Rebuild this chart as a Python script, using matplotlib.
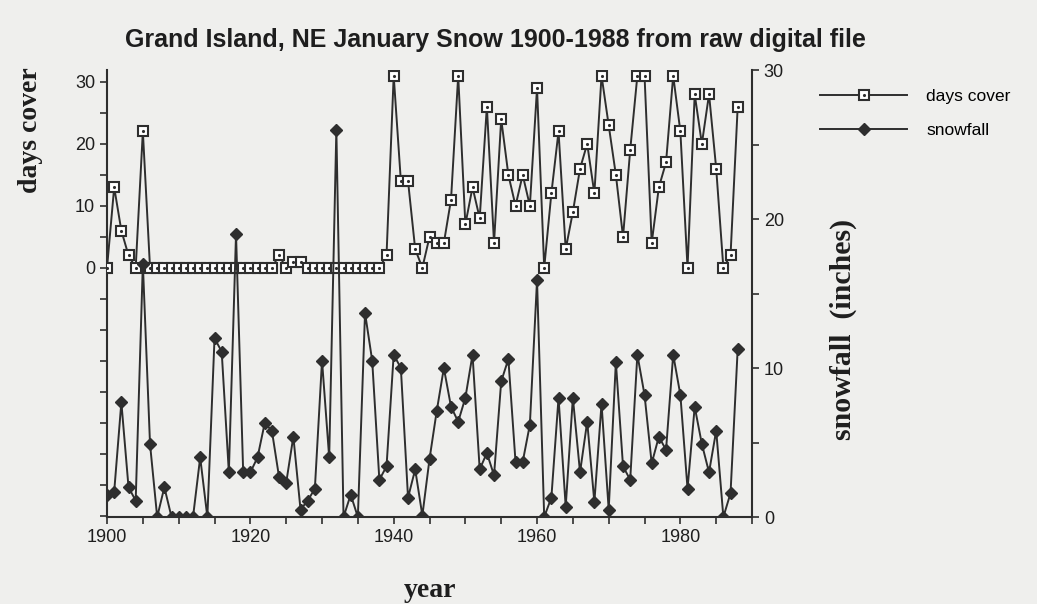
import matplotlib
matplotlib.use("Agg")
import matplotlib.pyplot as plt
from matplotlib.ticker import MultipleLocator

# dados (Grand Island, NE - janeiro)
anos = list(range(1900, 1989))

dias_cobertura = [
    0, 13, 6, 2, 0, 22, 0, 0, 0, 0,
    0, 0, 0, 0, 0, 0, 0, 0, 0, 0,
    0, 0, 0, 0, 2, 0, 1, 1, 0, 0,
    0, 0, 0, 0, 0, 0, 0, 0, 0, 2,
    31, 14, 14, 3, 0, 5, 4, 4, 11, 31,
    7, 13, 8, 26, 4, 24, 15, 10, 15, 10,
    29, 0, 12, 22, 3, 9, 16, 20, 12, 31,
    23, 15, 5, 19, 31, 31, 4, 13, 17, 31,
    22, 0, 28, 20, 28, 16, 0, 2, 26,
]

neve = [
    1.5, 1.7, 7.7, 2.0, 1.1, 17.0, 4.9, 0.0, 2.0, 0.0,
    0.0, 0.0, 0.0, 4.0, 0.0, 12.0, 11.1, 3.0, 19.0, 3.0,
    3.0, 4.0, 6.3, 5.8, 2.7, 2.3, 5.4, 0.5, 1.1, 1.9,
    10.5, 4.0, 26.0, 0.0, 1.5, 0.0, 13.7, 10.5, 2.5, 3.4,
    10.9, 10.0, 1.3, 3.2, 0.1, 3.9, 7.1, 10.0, 7.4, 6.4,
    8.0, 10.9, 3.2, 4.3, 2.8, 9.1, 10.6, 3.7, 3.7, 6.2,
    15.9, 0.0, 1.3, 8.0, 0.7, 8.0, 3.0, 6.4, 1.0, 7.6,
    0.5, 10.4, 3.4, 2.5, 10.9, 8.2, 3.6, 5.4, 4.5, 10.9,
    8.2, 1.9, 7.4, 4.9, 3.0, 5.8, 0.0, 1.6, 11.3,
]

fundo = "#efefed"
cor = "#2e2e2e"

fig = plt.figure(figsize=(10.37, 6.04), dpi=100, facecolor=fundo)
ax = fig.add_axes([0.1032, 0.144, 0.622, 0.74])
ax.set_facecolor(fundo)
ax2 = ax.twinx()

# dias de cobertura (eixo esquerdo)
l1, = ax.plot(anos, dias_cobertura, color=cor, lw=1.4, marker="s", ms=7.5,
              mfc="white", mec=cor, mew=1.5, zorder=3)
p1, = ax.plot(anos, dias_cobertura, ls="none", marker=".", ms=2.5, color=cor, zorder=4)

# neve (eixo direito)
l2, = ax2.plot(anos, neve, color=cor, lw=1.4, marker="D", ms=6,
               mfc=cor, mec=cor, zorder=3)

ax.set_xlim(1900, 1990)
ax.set_ylim(-40.2, 31.9)
ax2.set_ylim(0, 30)

ax.set_yticks([0, 10, 20, 30])
ax.yaxis.set_minor_locator(MultipleLocator(5))
ax2.set_yticks([0, 10, 20, 30])
ax2.yaxis.set_minor_locator(MultipleLocator(5))
ax.set_xticks([1900, 1920, 1940, 1960, 1980])
ax.xaxis.set_minor_locator(MultipleLocator(5))

for a in (ax, ax2):
    a.spines["top"].set_visible(False)
    for s in a.spines.values():
        s.set_color(cor)
        s.set_linewidth(1.5)
    a.tick_params(which="both", direction="out", length=5, width=1.2,
                  colors=cor, labelsize=13, labelcolor="#1e1e1e")
ax.spines["right"].set_visible(False)
ax2.spines["left"].set_visible(False)
ax2.spines["bottom"].set_visible(False)

for lab in ax.get_xticklabels() + ax.get_yticklabels() + ax2.get_yticklabels():
    lab.set_family("Liberation Sans")

serif = dict(family="Liberation Serif", weight="bold", size=20, color="#1e1e1e")
fig.text(0.029, 0.785, "days cover", rotation=90, ha="center", va="center", **serif)
fig.text(0.813, 0.455, "snowfall  (inches)", rotation=90, ha="center", va="center",
         family="Liberation Serif", weight="bold", size=21.5, color="#1e1e1e")
fig.text(0.415, 0.022, "year", ha="center", va="center", **serif)

fig.text(0.478, 0.934, "Grand Island, NE January Snow 1900-1988 from raw digital file",
         ha="center", va="center", family="Liberation Sans", weight="bold",
         size=18, color="#1e1e1e")

fig.legend([(l1, p1), l2], ["days cover", "snowfall"], loc="upper left",
           bbox_to_anchor=(0.776, 0.879), frameon=False,
           prop=dict(family="Liberation Sans", size=12.5),
           handlelength=5.0, handletextpad=1.1, labelspacing=1.1)

fig.savefig("out.png", dpi=100, facecolor=fundo)
